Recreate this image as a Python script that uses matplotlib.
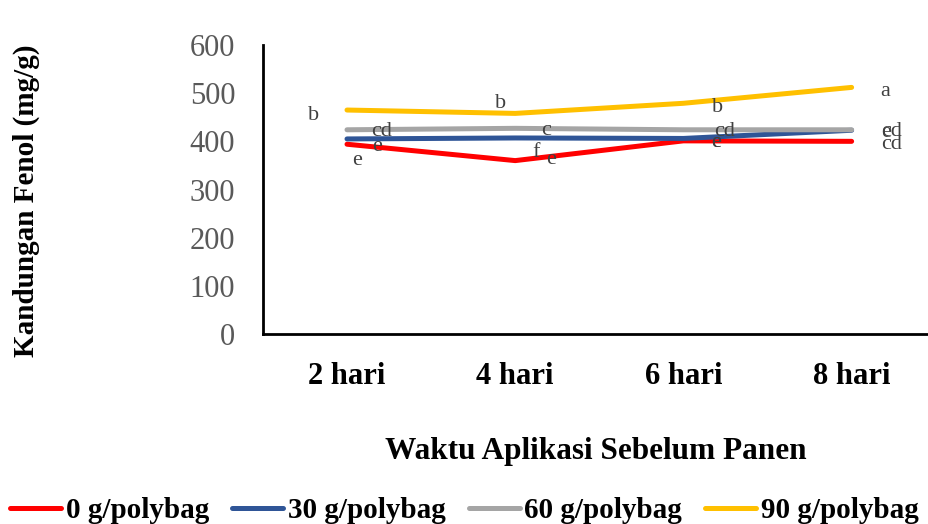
"""
Kandungan fenol per waktu aplikasi sebelum panen, empat dosis pupuk.
Saves out.png (929x524).
"""
import matplotlib
matplotlib.use('Agg')
import matplotlib.pyplot as plt

plt.rcParams['font.family'] = ['Liberation Serif', 'DejaVu Serif']

WAKTU = ["2 hari", "4 hari", "6 hari", "8 hari"]
SERIES = ["0 g/polybag", "30 g/polybag", "60 g/polybag", "90 g/polybag"]
COLORS = ['#FF0000', '#2F5597', '#A5A5A5', '#FFC000']

fenol_0 = [394, 360, 401, 400]
fenol_30 = [405, 407, 406, 423]
fenol_60 = [424, 427, 424, 424]
fenol_90 = [465, 458, 479, 512]

notasi_0 = ["e", "e", "e", "cd"]
notasi_30 = ["e", "f", "e", "e"]
notasi_60 = ["cd", "c", "cd", "cd"]
notasi_90 = ["b", "b", "b", "a"]

# label offsets in pixels (dx right, dy down) from each point
OFFSETS = [
    [(10, 16), (36, -1), (33, 2), (40, 3)],
    [(30, 8), (21, 15), (33, 4), (34, 2)],
    [(35, 2), (31, 2), (41, 2), (40, 2)],
    [(-33, 5), (-15, -10), (34, 4), (34, 4)],
]

fig = plt.figure(figsize=(9.29, 5.24), dpi=100)
ax = fig.add_axes([0.283, 0.3626, 0.717, 0.5515])

x = list(range(len(WAKTU)))
all_vals = [fenol_0, fenol_30, fenol_60, fenol_90]
all_notes = [notasi_0, notasi_30, notasi_60, notasi_90]
for vals, notes, offs, name, c in zip(all_vals, all_notes, OFFSETS, SERIES, COLORS):
    ax.plot(x, vals, color=c, linewidth=3.6, label=name, solid_capstyle='round')
    for xi, v, n, (dx, dy) in zip(x, vals, notes, offs):
        ax.annotate(n, (xi, v), xytext=(dx * 0.72, -dy * 0.72), textcoords='offset points',
                    ha='center', va='center', fontsize=16, color='#404040')

ax.set_xlim(-0.5, 3.46)
ax.set_ylim(0, 600)
ax.set_xticks(x)
ax.set_xticklabels(WAKTU, fontsize=22, fontweight='bold')
ax.set_yticks(range(0, 601, 100))
ax.tick_params(axis='y', labelsize=22, labelcolor='#595959', length=0, pad=20)
ax.tick_params(axis='x', length=0, pad=20)
for s in ['top', 'right']:
    ax.spines[s].set_visible(False)
for s in ['left', 'bottom']:
    ax.spines[s].set_linewidth(2)

ax.set_ylabel("Kandungan Fenol (mg/g)", fontsize=21, fontweight='bold')
ax.yaxis.set_label_coords(-0.335, 0.46)
ax.set_xlabel("Waktu Aplikasi Sebelum Panen", fontsize=22.5, fontweight='bold')
ax.xaxis.set_label_coords(0.5, -0.355)

fig.legend(loc='center', bbox_to_anchor=(0.5, 0.025), ncol=4, frameon=False,
           prop={'size': 21, 'weight': 'bold'}, handlelength=1.75, handletextpad=0.15,
           columnspacing=0.8)

fig.savefig("out.png", dpi=100)
